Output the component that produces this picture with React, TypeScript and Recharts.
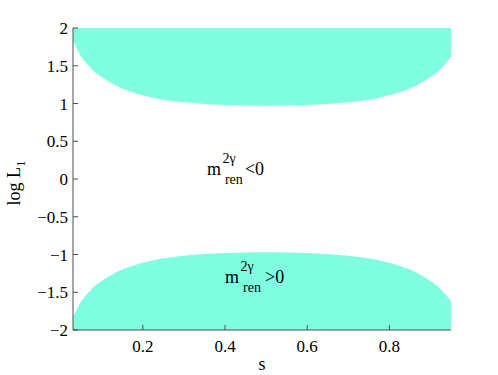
import { ComposedChart, Area, XAxis, YAxis, ReferenceDot, Label } from "recharts";

// s positions where the region boundaries were read
const sValues = [
  0.03, 0.04, 0.05, 0.06, 0.07, 0.08, 0.1, 0.12, 0.15, 0.2, 0.25, 0.3, 0.35, 0.4, 0.45, 0.5,
  0.55, 0.6, 0.65, 0.7, 0.75, 0.8, 0.85, 0.88, 0.9, 0.92, 0.93, 0.94, 0.95,
];
// lower edge of the top band (log L1)
const upperEdge = [
  1.83, 1.72, 1.62, 1.55, 1.49, 1.43, 1.35, 1.28, 1.2, 1.11, 1.05, 1.015, 0.995, 0.98, 0.972, 0.97,
  0.972, 0.98, 0.995, 1.015, 1.05, 1.11, 1.2, 1.28, 1.35, 1.43, 1.49, 1.55, 1.62,
];
// upper edge of the bottom band
const lowerEdge = [
  -1.83, -1.72, -1.62, -1.55, -1.49, -1.43, -1.35, -1.28, -1.2, -1.11, -1.05, -1.015, -0.995, -0.98,
  -0.972, -0.97, -0.972, -0.98, -0.995, -1.015, -1.05, -1.11, -1.2, -1.28, -1.35, -1.43, -1.49, -1.55,
  -1.62,
];

const xTicks = [0.2, 0.4, 0.6, 0.8];
const yTicks = [-2, -1.5, -1, -0.5, 0, 0.5, 1, 1.5, 2];
const xDomain = [0.03, 0.95];
const yDomain = [-2, 2];

const notes = [
  { s: 0.356, v: 0.05, rel: "<0", relGap: 38 },
  { s: 0.4, v: -1.38, rel: ">0", relGap: 40 },
];

const FONT = "Liberation Serif";
const AXIS = "#4d4d4d";
const FILL = "#7fffdf";

const data = sValues.map((s, i) => ({
  s,
  topBand: [upperEdge[i], yDomain[1]],
  bottomBand: [yDomain[0], lowerEdge[i]],
}));

const fmt = (v: number) => String(v).replace("-", "\u2212");

function massLabel(rel: string, relGap: number) {
  return (props: any) => {
    const { x, y } = props.viewBox;
    return (
      <text style={{ fontFamily: FONT }} fill="#000" fontSize={18}>
        <tspan x={x} y={y}>m</tspan>
        <tspan x={x + 15.5} y={y - 12} fontSize={14}>2γ</tspan>
        <tspan x={x + 18} y={y + 8.5} fontSize={14}>ren</tspan>
        <tspan x={x + relGap} y={y}>{rel}</tspan>
      </text>
    );
  };
}

function YTitle(props: any) {
  const cy = props.viewBox.y + props.viewBox.height / 2;
  const x = 20;
  return (
    <text transform={`rotate(-90 ${x} ${cy + 4})`} x={x} y={cy + 4} textAnchor="middle" style={{ fontFamily: FONT }} fontSize={18} fill="#000">
      <tspan>log L</tspan>
      <tspan dy={5} fontSize={13}>1</tspan>
    </text>
  );
}

export default function App() {
  const tickStyle = { fontSize: 17, fill: "#000", style: { fontFamily: FONT } };
  return (
    <div style={{ position: "absolute", left: 0, top: 0, width: 498, height: 375, background: "#fff", fontFamily: FONT }}>
      <ComposedChart width={498} height={375} data={data} margin={{ top: 28, right: 47, bottom: 0, left: 0 }} style={{ fontFamily: FONT }}>
        <XAxis
          dataKey="s"
          type="number"
          domain={xDomain}
          allowDataOverflow
          ticks={xTicks}
          height={45}
          tickSize={-5}
          tickMargin={15}
          tick={tickStyle}
          stroke={AXIS}
        >
          <Label value="s" position="insideBottom" offset={5} style={{ fontFamily: FONT, fontSize: 18, fill: "#000" }} />
        </XAxis>
        <XAxis
          xAxisId="top"
          orientation="top"
          dataKey="s"
          type="number"
          domain={xDomain}
          allowDataOverflow
          ticks={xTicks}
          height={0}
          tickSize={-5}
          tick={false}
          stroke={AXIS}
        />
        <YAxis
          type="number"
          domain={yDomain}
          allowDataOverflow
          ticks={yTicks}
          width={73}
          tickSize={-5}
          tickMargin={10}
          tickFormatter={fmt}
          tick={tickStyle}
          stroke={AXIS}
          label={<YTitle />}
        />
        <YAxis
          yAxisId="right"
          orientation="right"
          type="number"
          domain={yDomain}
          allowDataOverflow
          ticks={yTicks}
          width={0}
          tickSize={-5}
          tick={false}
          stroke={AXIS}
        />
        <Area dataKey="topBand" type="monotone" stroke="none" fill={FILL} fillOpacity={1} isAnimationActive={false} />
        <Area dataKey="bottomBand" type="monotone" stroke="none" fill={FILL} fillOpacity={1} isAnimationActive={false} />
        {notes.map((n) => (
          <ReferenceDot key={n.rel} x={n.s} y={n.v} r={0} stroke="none" fill="none" label={massLabel(n.rel, n.relGap)} />
        ))}
      </ComposedChart>
    </div>
  );
}
